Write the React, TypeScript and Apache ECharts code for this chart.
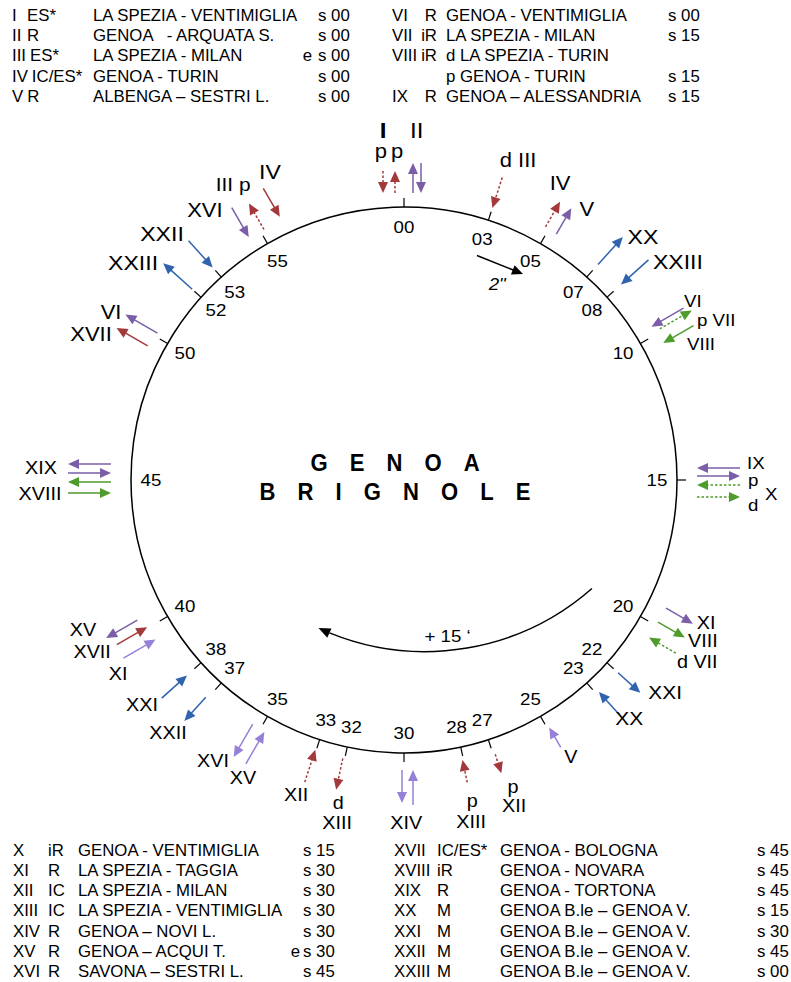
import React, { useEffect, useRef } from 'react';
import * as echarts from 'echarts';

// ---------- fonts / global text stretch ----------
const FONT = '"Liberation Sans", Arial, Helvetica, sans-serif';
const SX = 1.1;
const TABLE_SX = 1.05;

// ---------- clock face ----------
const CENTER = [404, 480];
const RING = 273;
const tickMinutes = [0, 3, 5, 7, 8, 10, 15, 20, 22, 23, 25, 27, 28, 30, 32, 33, 35, 37, 38, 40, 50, 52, 53, 55];
const labelMinutes = [0, 3, 5, 7, 8, 10, 15, 20, 22, 23, 25, 27, 28, 30, 32, 33, 35, 37, 38, 40, 45, 50, 52, 53, 55];

// ---------- train arrows (minute on the clock, train, direction, service colour, dashed) ----------
const arrowMinute = [0, 0, 0, 0, 3, 5, 5, 7, 8, 10, 10, 10, 15, 15, 15, 15, 20, 20, 20, 22, 23, 25, 27, 28, 30, 30, 32, 33, 35, 35, 37, 38, 40, 40, 40, 45, 45, 45, 45, 50, 50, 52, 53, 55, 55, 55];
const arrowTrain = ['I', 'I', 'II', 'II', 'III', 'IV', 'V', 'XX', 'XXIII', 'VI', 'VII', 'VIII', 'IX', 'IX', 'X', 'X', 'XI', 'VIII', 'VII', 'XXI', 'XX', 'V', 'XII', 'XIII', 'XIV', 'XIV', 'XIII', 'XII', 'XVI', 'XV', 'XXII', 'XXI', 'XV', 'XVII', 'XI', 'XIX', 'XIX', 'XVIII', 'XVIII', 'VI', 'XVII', 'XXIII', 'XXII', 'XVI', 'III', 'IV'];
const arrowDir = ['in', 'out', 'out', 'in', 'in', 'out', 'out', 'out', 'in', 'in', 'out', 'in', 'in', 'out', 'in', 'out', 'out', 'out', 'in', 'out', 'in', 'in', 'out', 'in', 'out', 'in', 'out', 'in', 'out', 'in', 'out', 'in', 'out', 'in', 'in', 'out', 'in', 'out', 'in', 'out', 'out', 'out', 'in', 'in', 'out', 'in'];
const arrowColour = ['red', 'red', 'purple', 'purple', 'red', 'red', 'purple', 'blue', 'blue', 'purple', 'green', 'green', 'purple', 'purple', 'green', 'green', 'purple', 'green', 'green', 'blue', 'blue', 'lilac', 'red', 'red', 'lilac', 'lilac', 'red', 'red', 'lilac', 'lilac', 'blue', 'blue', 'purple', 'red', 'lilac', 'purple', 'purple', 'green', 'green', 'purple', 'red', 'blue', 'blue', 'purple', 'red', 'red'];
const arrowDashed = [1, 1, 0, 0, 1, 1, 0, 0, 0, 0, 1, 0, 0, 0, 1, 1, 0, 0, 1, 0, 0, 0, 1, 1, 0, 0, 1, 1, 0, 0, 0, 0, 0, 0, 0, 0, 0, 0, 0, 0, 0, 0, 0, 0, 1, 0];

// layout of arrows: sideways offset (px) and radial extent
const arrowOffset = [-21, -9, 9, 17, 0, -4, 9, 0, 0, -9, -3, 11, -12, -4, 5, 17, -20, -4, 14, 0, -3, -2, -2, 1, 2, -9, 2, 1, 9, -5, 2, 0, 12, 1, -14, 16, 7, -2, -13, 4, -12, 0, 0, -13, 4, 24];
const arrowInner = [287, 287, 287, 287, 286, 290, 289, 290, 292, 291, 297, 293, 293, 293, 293, 293, 291, 291, 291, 288, 288, 287, 289, 286, 290, 290, 285, 284, 287, 288, 294, 292, 301, 296, 295, 293, 293, 293, 293, 287, 289, 285, 286, 288, 287, 290];
const arrowOuter = [309, 309, 317, 317, 318, 319, 319, 327, 329, 328, 334, 328, 336, 336, 336, 336, 322, 322, 322, 318, 318, 310, 309, 309, 323, 325, 317, 318, 325, 325, 326, 326, 337, 331, 332, 336, 336, 336, 336, 324, 325, 324, 322, 322, 317, 323];

// ---------- roman numeral annotations ----------
const noteText = ['I', 'II', 'p', 'p', 'd III', 'IV', 'V', 'XX', 'XXIII', 'VI', 'p VII', 'VIII', 'IX', 'p', 'X', 'd', 'XI', 'VIII', 'd VII', 'XXI', 'XX', 'V', 'p', 'XII', 'p', 'XIII', 'XIV', 'd', 'XIII', 'XII', 'XVI', 'XV', 'XXII', 'XXI', 'XV', 'XVII', 'XI', 'XIX', 'XVIII', 'VI', 'XVII', 'XXIII', 'XXII', 'XVI', 'III p', 'IV'];
// layout (polar position: radius px, clock minute), alignment, size
const noteR = [350.6, 350.2, 329.8, 329.1, 339.7, 335.5, 327, 340.8, 350.1, 332.3, 333.8, 314, 343.4, 344, 361.3, 344.9, 325.6, 326.5, 328.1, 336.9, 328.2, 323.4, 325.8, 344, 328.1, 348.5, 343, 329.7, 349.5, 333, 339.8, 338.7, 346, 345.4, 354.3, 356.3, 345.6, 363.2, 364.3, 337.7, 345.4, 347.2, 345.1, 335.4, 341.8, 335.9];
const noteAt = [59.43, 0.35, 59.33, 59.8, 3.27, 4.62, 5.67, 7.42, 8.58, 9.57, 10.23, 10.72, 14.53, 15.0, 15.37, 15.69, 19.32, 19.92, 20.62, 21.53, 22.78, 24.82, 26.74, 26.89, 28.0, 28.15, 29.94, 31.92, 31.84, 33.15, 35.7, 34.73, 37.17, 38.22, 40.83, 40.18, 39.3, 45.32, 44.63, 49.97, 49.17, 51.45, 52.58, 53.93, 55.0, 56.08];
const noteAlign = ['center', 'center', 'center', 'center', 'center', 'center', 'center', 'center', 'center', 'left', 'left', 'left', 'left', 'left', 'left', 'left', 'left', 'left', 'left', 'center', 'center', 'center', 'center', 'center', 'center', 'center', 'center', 'center', 'center', 'center', 'center', 'center', 'center', 'center', 'center', 'center', 'center', 'center', 'center', 'center', 'center', 'center', 'center', 'center', 'center', 'center'];
const noteSize = [22, 22, 20, 20, 20, 20, 20, 21, 21, 17, 17, 17, 17, 17, 17, 17, 18, 18, 18, 19, 19, 18, 18, 18, 18, 18, 18, 18, 18, 18, 18, 18, 18, 18, 18, 18, 18, 18, 18, 20, 20, 21, 21, 20, 19, 21];

// ---------- decorations: 2" step and +15' sweep (polar: radius, minute) ----------
const stepFrom = [236, 3];
const stepTo = [238, 5];
const stepLabelAt = [217, 4.24];
const sweepFrom = [217, 20];
const sweepVia = [192, 23.8];
const sweepTo = [171, 35];
const sweepLabelAt = [162, 27.4];

// ---------- tables ----------
const topLeftRows = [
  ['I', 'ES*', 'LA SPEZIA - VENTIMIGLIA', '', 's 00'],
  ['II', 'R', 'GENOA   - ARQUATA S.', '', 's 00'],
  ['III', 'ES*', 'LA SPEZIA - MILAN', 'e', 's 00'],
  ['IV', 'IC/ES*', 'GENOA - TURIN', '', 's 00'],
  ['V', 'R', 'ALBENGA – SESTRI L.', '', 's 00'],
];
const topRightRows = [
  ['VI', 'R', 'GENOA - VENTIMIGLIA', 's 00'],
  ['VII', 'iR', 'LA SPEZIA - MILAN', 's 15'],
  ['VIII', 'iR', 'd LA SPEZIA - TURIN', ''],
  ['', '', 'p GENOA - TURIN', 's 15'],
  ['IX', 'R', 'GENOA – ALESSANDRIA', 's 15'],
];
const bottomLeftRows = [
  ['X', 'iR', 'GENOA - VENTIMIGLIA', '', 's 15'],
  ['XI', 'R', 'LA SPEZIA - TAGGIA', '', 's 30'],
  ['XII', 'IC', 'LA SPEZIA - MILAN', '', 's 30'],
  ['XIII', 'IC', 'LA SPEZIA - VENTIMIGLIA', '', 's 30'],
  ['XIV', 'R', 'GENOA – NOVI L.', '', 's 30'],
  ['XV', 'R', 'GENOA – ACQUI T.', 'e', 's 30'],
  ['XVI', 'R', 'SAVONA – SESTRI L.', '', 's 45'],
];
const bottomRightRows = [
  ['XVII', 'IC/ES*', 'GENOA - BOLOGNA', 's 45'],
  ['XVIII', 'iR', 'GENOA - NOVARA', 's 45'],
  ['XIX', 'R', 'GENOA - TORTONA', 's 45'],
  ['XX', 'M', 'GENOA B.le – GENOA V.', 's 15'],
  ['XXI', 'M', 'GENOA B.le – GENOA V.', 's 30'],
  ['XXII', 'M', 'GENOA B.le – GENOA V.', 's 45'],
  ['XXIII', 'M', 'GENOA B.le – GENOA V.', 's 00'],
];
const titleLines = ['GENOA', 'BRIGNOLE'];

const COLOURS: Record<string, string> = {
  red: '#a3393a',
  purple: '#7b5ea8',
  lilac: '#9780d8',
  blue: '#2f63ae',
  green: '#4f9b2c',
};

let measureCtx: CanvasRenderingContext2D | null = null;
function textWidth(t: string, font: string) {
  if (!measureCtx) measureCtx = document.createElement('canvas').getContext('2d');
  if (!measureCtx) return t.length * 8;
  measureCtx.font = font;
  return measureCtx.measureText(t).width;
}

function txt(text: string, x: number, y: number, font: string, align = 'left', sx = SX, fill = '#000') {
  return {
    type: 'text',
    x,
    y,
    scaleX: sx,
    silent: true,
    style: {
      text,
      font,
      fill,
      align,
      verticalAlign: 'middle',
      textAlign: align,
      textVerticalAlign: 'middle',
    },
  };
}

function arrowEls(s: number[], e: number[], color: string, dashed: boolean, head = 11, half = 5, lw = 1.5) {
  const dx = e[0] - s[0];
  const dy = e[1] - s[1];
  const L = Math.hypot(dx, dy) || 1;
  const ux = dx / L;
  const uy = dy / L;
  const bx = e[0] - ux * head;
  const by = e[1] - uy * head;
  const nx = -uy;
  const ny = ux;
  const lineStyle: any = { stroke: color, lineWidth: lw, fill: null };
  if (dashed) lineStyle.lineDash = [2.5, 2];
  return [
    { type: 'line', shape: { x1: s[0], y1: s[1], x2: bx + ux, y2: by + uy }, style: lineStyle },
    {
      type: 'polygon',
      shape: { points: [[e[0], e[1]], [bx + nx * half, by + ny * half], [bx - nx * half, by - ny * half]] },
      style: { fill: color, stroke: null },
    },
  ];
}

function radialUnit(api: any, m: number) {
  const c = api.coord([0, m]);
  const p = api.coord([100, m]);
  return [(p[0] - c[0]) / 100, (p[1] - c[1]) / 100];
}

function circum(a: number[], b: number[], c: number[]) {
  const d = 2 * (a[0] * (b[1] - c[1]) + b[0] * (c[1] - a[1]) + c[0] * (a[1] - b[1]));
  const a2 = a[0] * a[0] + a[1] * a[1];
  const b2 = b[0] * b[0] + b[1] * b[1];
  const c2 = c[0] * c[0] + c[1] * c[1];
  const ux = (a2 * (b[1] - c[1]) + b2 * (c[1] - a[1]) + c2 * (a[1] - b[1])) / d;
  const uy = (a2 * (c[0] - b[0]) + b2 * (a[0] - c[0]) + c2 * (b[0] - a[0])) / d;
  return [ux, uy, Math.hypot(a[0] - ux, a[1] - uy)];
}

function buildOption() {
  const tableFont = `16px ${FONT}`;
  const graphic: any[] = [];
  const topY = (i: number) => 15 + i * 20.3;
  const botY = (i: number) => 850 + i * 20.2;

  topLeftRows.forEach((row, i) => {
    const y = topY(i);
    graphic.push(txt(row[0], 12, y, tableFont, 'left', TABLE_SX));
    const tx = Math.max(27, 12 + textWidth(row[0], tableFont) * TABLE_SX + 4);
    graphic.push(txt(row[1], tx, y, tableFont, 'left', TABLE_SX));
    graphic.push(txt(row[2], 93, y, tableFont, 'left', TABLE_SX));
    if (row[3]) graphic.push(txt(row[3], 312, y, tableFont, 'right', TABLE_SX));
    graphic.push(txt(row[4], 318, y, tableFont, 'left', TABLE_SX));
  });
  topRightRows.forEach((row, i) => {
    const y = topY(i);
    if (row[0]) graphic.push(txt(row[0], 392, y, tableFont, 'left', TABLE_SX));
    if (row[1]) graphic.push(txt(row[1], 437, y, tableFont, 'right', TABLE_SX));
    graphic.push(txt(row[2], 446, y, tableFont, 'left', TABLE_SX));
    if (row[3]) graphic.push(txt(row[3], 668, y, tableFont, 'left', TABLE_SX));
  });
  bottomLeftRows.forEach((row, i) => {
    const y = botY(i);
    graphic.push(txt(row[0], 13, y, tableFont, 'left', TABLE_SX));
    graphic.push(txt(row[1], 48, y, tableFont, 'left', TABLE_SX));
    graphic.push(txt(row[2], 78, y, tableFont, 'left', TABLE_SX));
    if (row[3]) graphic.push(txt(row[3], 300, y, tableFont, 'right', TABLE_SX));
    graphic.push(txt(row[4], 303, y, tableFont, 'left', TABLE_SX));
  });
  bottomRightRows.forEach((row, i) => {
    const y = botY(i);
    graphic.push(txt(row[0], 394, y, tableFont, 'left', TABLE_SX));
    graphic.push(txt(row[1], 437, y, tableFont, 'left', TABLE_SX));
    graphic.push(txt(row[2], 500, y, tableFont, 'left', TABLE_SX));
    graphic.push(txt(row[3], 757, y, tableFont, 'left', TABLE_SX));
  });

  // station name in the middle of the clock
  const titleFont = `bold 24px ${FONT}`;
  titleLines.forEach((word, i) => {
    graphic.push(txt(word.split('').join('\u2003'), 395, 463 + i * 29, titleFont, 'center', 0.92));
  });

  const axisOff = { show: false };

  return {
    animation: false,
    backgroundColor: '#fff',
    polar: { center: CENTER, radius: RING },
    angleAxis: {
      type: 'value',
      min: 0,
      max: 60,
      startAngle: 90,
      clockwise: true,
      axisLine: { show: true, lineStyle: { color: '#000', width: 1.5 } },
      axisTick: axisOff,
      axisLabel: axisOff,
      splitLine: axisOff,
      splitArea: axisOff,
    },
    radiusAxis: {
      type: 'value',
      min: 0,
      max: RING,
      axisLine: axisOff,
      axisTick: axisOff,
      axisLabel: axisOff,
      splitLine: axisOff,
      splitArea: axisOff,
    },
    series: [
      {
        type: 'custom',
        name: 'ticks',
        coordinateSystem: 'polar',
        silent: true,
        data: tickMinutes.map((m) => [RING, m]),
        renderItem: (params: any, api: any) => {
          const m = api.value(1);
          const a = api.coord([RING, m]);
          const b = api.coord([RING + 9, m]);
          return { type: 'line', shape: { x1: a[0], y1: a[1], x2: b[0], y2: b[1] }, style: { stroke: '#000', lineWidth: 1.2 } };
        },
      },
      {
        type: 'custom',
        name: 'minutes',
        coordinateSystem: 'polar',
        silent: true,
        data: labelMinutes.map((m) => [253, m]),
        renderItem: (params: any, api: any) => {
          const m = api.value(1);
          const p = api.coord([api.value(0), m]);
          return txt(String(m).padStart(2, '0'), p[0], p[1], `17px ${FONT}`, 'center');
        },
      },
      {
        type: 'custom',
        name: 'trains',
        coordinateSystem: 'polar',
        silent: true,
        data: arrowMinute.map((m, i) => [arrowInner[i], m, arrowOuter[i]]),
        renderItem: (params: any, api: any) => {
          const i = params.dataIndex;
          const m = api.value(1);
          const rIn = api.value(0);
          const rOut = api.value(2);
          const [ux, uy] = radialUnit(api, m);
          const vx = -uy;
          const vy = ux;
          const t = arrowOffset[i];
          const pi = api.coord([rIn, m]);
          const po = api.coord([rOut, m]);
          const a = [pi[0] + vx * t, pi[1] + vy * t];
          const b = [po[0] + vx * t, po[1] + vy * t];
          const s = arrowDir[i] === 'in' ? b : a;
          const e = arrowDir[i] === 'in' ? a : b;
          return {
            type: 'group',
            children: arrowEls(s, e, COLOURS[arrowColour[i]], !!arrowDashed[i]),
          };
        },
      },
      {
        type: 'custom',
        name: 'notes',
        coordinateSystem: 'polar',
        silent: true,
        data: noteText.map((t, i) => [noteR[i], noteAt[i]]),
        renderItem: (params: any, api: any) => {
          const i = params.dataIndex;
          const p = api.coord([api.value(0), api.value(1)]);
          const bold = i === 0 ? 'bold ' : '';
          return txt(noteText[i], p[0], p[1], `${bold}${noteSize[i]}px ${FONT}`, noteAlign[i]);
        },
      },
      {
        type: 'custom',
        name: 'decor',
        coordinateSystem: 'polar',
        silent: true,
        data: [[0, 0]],
        renderItem: (params: any, api: any) => {
          const children: any[] = [];
          // 2" step arrow
          const s1 = api.coord(stepFrom);
          const e1 = api.coord(stepTo);
          children.push(...arrowEls(s1, e1, '#000', false, 11, 5, 1.5));
          const l1 = api.coord(stepLabelAt);
          children.push(txt('2"', l1[0], l1[1], `italic 17px ${FONT}`, 'center'));
          // +15' sweep
          const A = api.coord(sweepFrom);
          const B = api.coord(sweepVia);
          const C = api.coord(sweepTo);
          const [cx, cy, r] = circum(A, B, C);
          const a0 = Math.atan2(A[1] - cy, A[0] - cx);
          const a1 = Math.atan2(C[1] - cy, C[0] - cx);
          const head = 12;
          children.push({
            type: 'arc',
            shape: { cx, cy, r, startAngle: a0, endAngle: a1 - head / r, clockwise: true },
            style: { stroke: '#000', lineWidth: 1.5, fill: null },
          });
          const dxh = -Math.sin(a1);
          const dyh = Math.cos(a1);
          const base = [C[0] - dxh * head, C[1] - dyh * head];
          children.push(...arrowEls(base, C, '#000', false, 12, 5, 1.5).slice(1));
          const l2 = api.coord(sweepLabelAt);
          children.push(txt('+ 15 ‘', l2[0], l2[1], `17px ${FONT}`, 'center'));
          return { type: 'group', children };
        },
      },
    ],
    graphic,
  };
}

export default function App() {
  const ref = useRef<HTMLDivElement>(null);
  useEffect(() => {
    if (!ref.current) return;
    const chart = echarts.init(ref.current, null, { renderer: 'svg' });
    chart.setOption(buildOption() as any);
    return () => chart.dispose();
  }, []);
  return (
    <div
      ref={ref}
      style={{ position: 'absolute', left: 0, top: 0, width: 791, height: 982, background: '#fff' }}
    />
  );
}
